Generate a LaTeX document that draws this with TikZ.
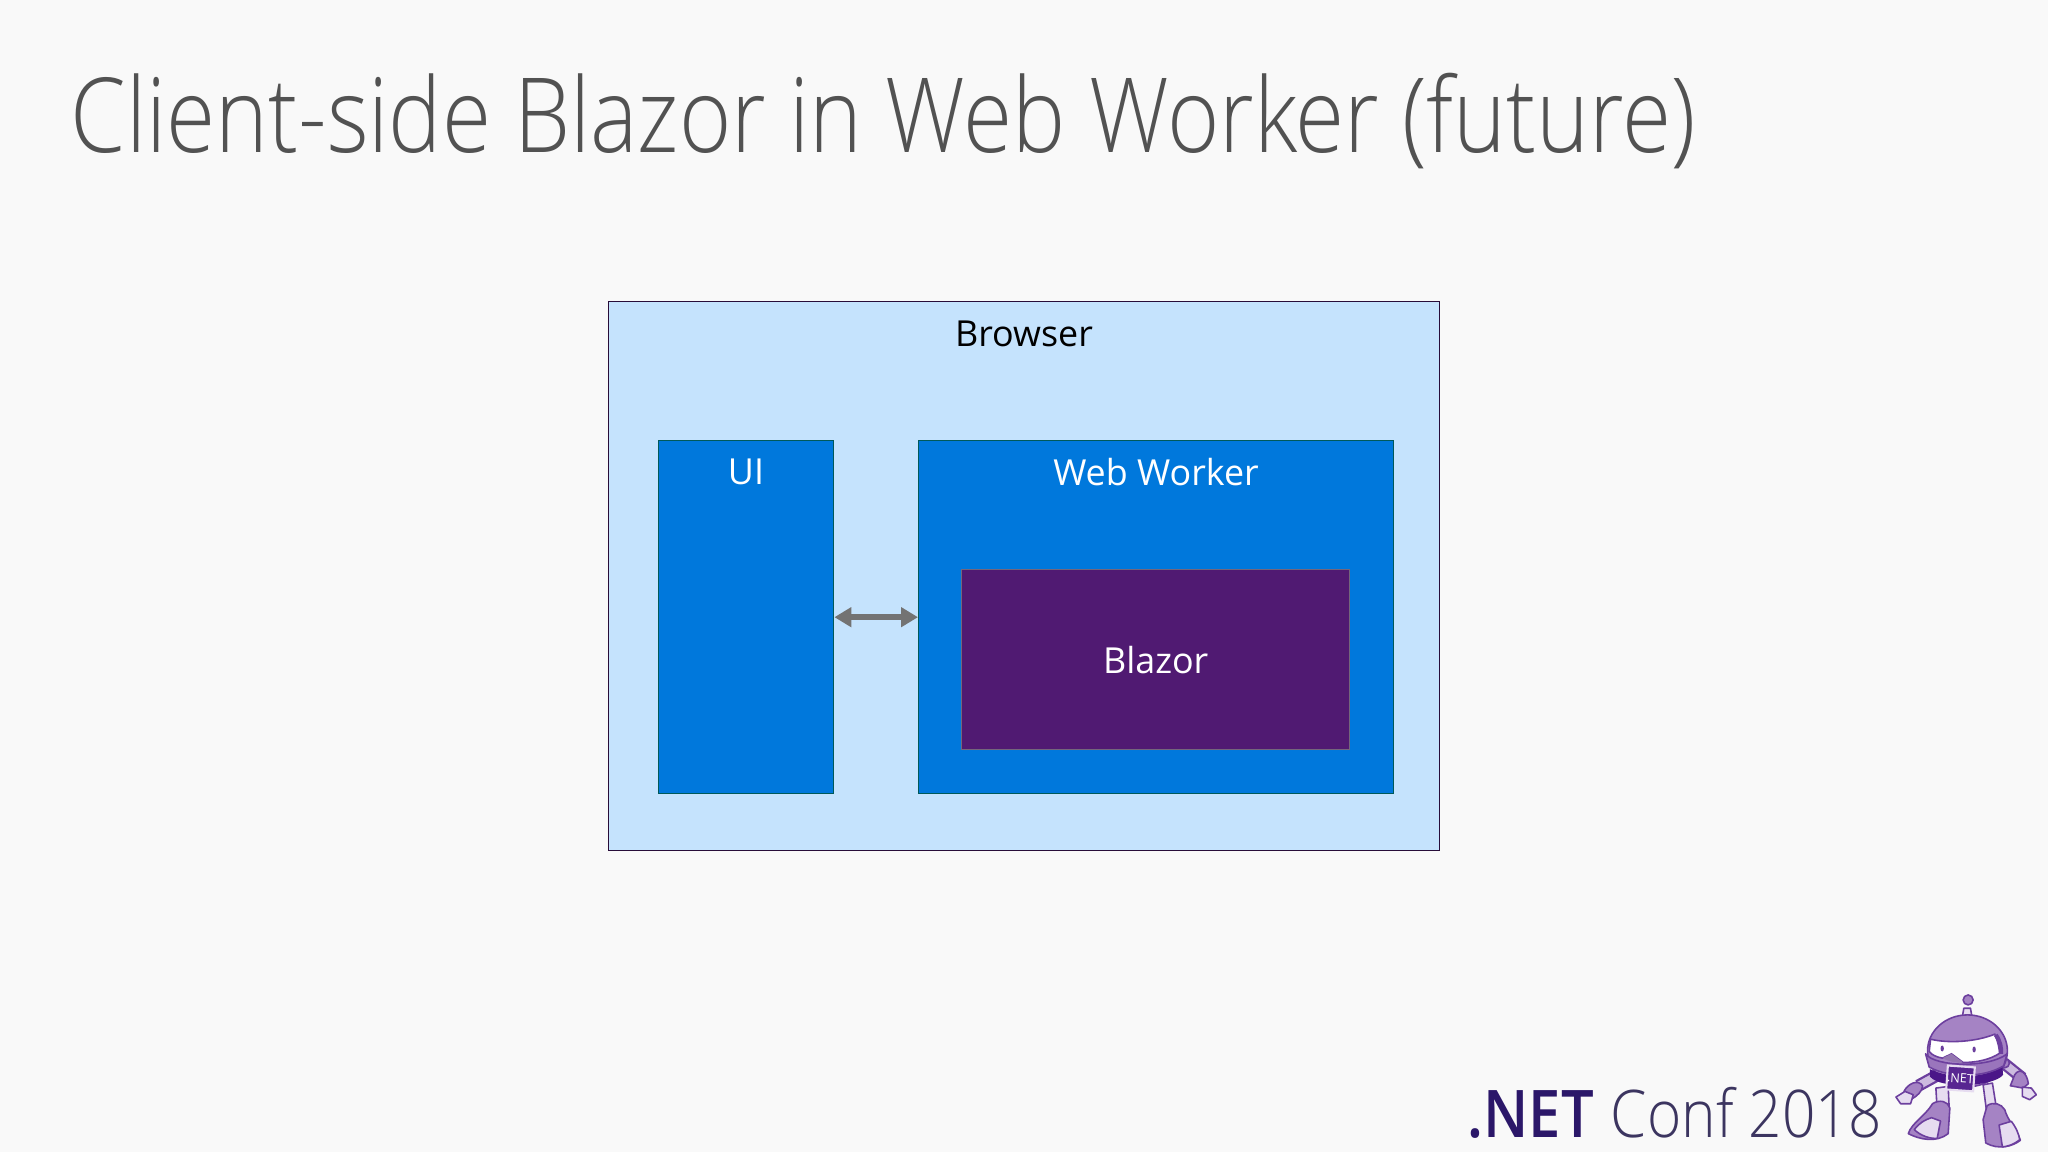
\documentclass[tikz,border=0pt]{standalone}
\usepackage{fontspec}
\usepackage[HTML]{xcolor}
\usepackage{tikz}
\usetikzlibrary{positioning, arrows, arrows.meta, calc}
\setmainfont{Open Sans}
\newfontfamily\lightfont[FakeStretch=0.862]{Open Sans Light}
\newfontfamily\conffont[FakeStretch=0.89]{Open Sans Light}
\newfontfamily\boldfont[FakeStretch=0.88]{Open Sans Semibold}
\definecolor{slidebg}{HTML}{F9F9F9}
\definecolor{browserfill}{HTML}{C5E3FD}
\definecolor{bluefill}{HTML}{0078DC}
\definecolor{blazorfill}{HTML}{501A72}
\definecolor{botline}{HTML}{6C3F9E}
\definecolor{botbody}{HTML}{A583C4}
\definecolor{botpale}{HTML}{E6DCF0}
\definecolor{botdark}{HTML}{4A1688}
\tikzset{
  panel/.style={draw, rectangle, anchor=north west, inner sep=0pt, line width=0.4pt},
  boxlabel/.style={font=\fontsize{10.2}{12}\selectfont, inner sep=0pt},
  botpart/.style={draw=botline, fill=botbody, line width=0.45pt, line join=round},
  botlight/.style={draw=botline, fill=botpale, line width=0.45pt, line join=round},
}
\begin{document}
\begin{tikzpicture}
\useasboundingbox (0,0) rectangle (20.48,11.52);
\fill[slidebg] (0,0) rectangle (20.48,11.52);

% Title
\node[anchor=base west, inner sep=0pt, text=black!68] (title) at (0.70,9.99)
  {\lightfont\fontsize{29.5}{36}\selectfont Client-side Blazor in Web Worker (future)};

% Boxes
\node[panel, draw=blazorfill!50!black, fill=browserfill, minimum width=8.31cm, minimum height=5.49cm] (browser) at (6.08,8.51) {};
\node[panel, draw=teal!70!black, fill=bluefill, minimum width=1.75cm, minimum height=3.53cm] (ui) at (6.58,7.12) {};
\node[panel, draw=teal!70!black, fill=bluefill, minimum width=4.75cm, minimum height=3.53cm] (worker) at (9.18,7.12) {};
\node[panel, draw=gray!75!blazorfill, fill=blazorfill, minimum width=3.88cm, minimum height=1.80cm] (blazor) at (9.61,5.83) {};

\node[boxlabel, text=black] (browserlabel) at (10.24,8.18) {Browser};
\node[boxlabel, text=white] (uilabel) at (7.46,6.80) {UI};
\node[boxlabel, text=white] (workerlabel) at (11.56,6.80) {Web Worker};
\node[boxlabel, text=white] at (blazor.center) (blazorlabel) {Blazor};

\draw[{Triangle[length=4.8pt,width=5.4pt]}-{Triangle[length=4.8pt,width=5.4pt]}, line width=1.8pt, color=black!55] (ui.east) -- (worker.west);

% Footer
\node[anchor=base west, inner sep=0pt] (conf) at (14.67,0.14)
  {\fontsize{18.7}{22}\selectfont\textcolor[HTML]{2B1769}{\boldfont .NET}\ \textcolor[HTML]{3C3560}{\conffont Conf 2018}};

% Robot, in units of the magnified crop
\begin{scope}[shift={(18.80,1.72)}, x=0.003333cm, y=-0.003333cm]
  % legs
  \draw[botlight] (168,325) -- (205,320) -- (208,385) -- (172,392) -- cycle;
  \draw[botlight] (310,315) -- (338,310) -- (350,385) -- (320,392) -- cycle;
  % feet
  \draw[botpart] (158,372) .. controls (180,358) and (205,365) .. (210,385) -- (205,462) .. controls (170,490) and (120,480) .. (85,462) .. controls (95,430) and (135,410) .. (158,372) -- cycle;
  \draw[botlight] (103,450) .. controls (118,430) and (135,420) .. (155,414) -- (182,424) -- (172,476) .. controls (150,478) and (122,468) .. (103,450) -- cycle;
  \draw[botpart] (322,378) .. controls (340,365) and (365,372) .. (375,390) .. controls (385,425) and (410,445) .. (422,482) .. controls (400,500) and (355,512) .. (318,490) -- (310,420) -- cycle;
  \draw[botlight] (358,436) -- (395,425) .. controls (410,445) and (418,465) .. (420,480) .. controls (402,495) and (385,500) .. (368,502) -- cycle;
  % arms
  \draw[line width=3.5pt, draw=botline] (175,285) -- (115,318);
  \draw[line width=2.2pt, draw=botbody!55] (175,285) -- (115,318);
  \draw[line width=3.5pt, draw=botline] (372,250) -- (428,295);
  \draw[line width=2.2pt, draw=botbody!55] (372,250) -- (428,295);
  \draw[botpart] (375,250) circle (14);
  \draw[botpart] (72,335) .. controls (85,310) and (115,298) .. (128,318) .. controls (128,335) and (110,350) .. (95,358) -- cycle;
  \draw[botlight] (48,352) -- (75,335) -- (100,345) -- (92,372) -- (62,372) -- cycle;
  \draw[botpart] (405,285) .. controls (420,262) and (442,278) .. (446,312) -- (430,325) -- (392,318) -- cycle;
  \draw[botlight] (428,322) -- (455,325) -- (470,345) -- (450,360) -- (428,350) -- cycle;
  % antenna
  \draw[botlight] (252,85) -- (272,85) -- (276,108) -- (248,108) -- cycle;
  \draw[botpart] (265,60) circle (15);
  % head and collar
  \draw[botpart] (263,213) ellipse (120 and 108);
  \fill[botdark] (150,268) .. controls (210,298) and (310,298) .. (368,260) -- (370,285) .. controls (345,320) and (180,330) .. (150,290) -- cycle;
  \draw[botpart, fill=botbody!80!botline] (137,222) .. controls (165,262) and (330,265) .. (382,222) -- (372,258) .. controls (310,295) and (210,295) .. (148,262) -- cycle;
  % visor
  \draw[draw=botline, fill=white, line width=0.45pt] (152,178) .. controls (210,192) and (290,185) .. (345,163) .. controls (355,185) and (358,205) .. (360,220) .. controls (330,240) and (290,248) .. (250,248) -- (215,222) -- (188,235) .. controls (170,232) and (155,225) .. (148,215) -- cycle;
  \fill[botbody!90!black] (188,235) -- (215,222) -- (250,248) .. controls (230,250) and (205,245) .. (188,235) -- cycle;
  \draw[botline, line width=1.2pt] (348,165) .. controls (362,185) and (365,205) .. (364,222);
  \fill[botline] (187,206) ellipse (5 and 9);
  \fill[botline] (283,209) ellipse (5 and 9);
  % badge
  \node[draw=botpale, fill=botdark!85!botbody, line width=0.6pt, minimum width=0.27cm, minimum height=0.24cm, inner sep=0pt, rotate=-4, text=white, font=\fontsize{3.6}{5}\selectfont] (badge) at (242,296) {.NET};
\end{scope}
\end{tikzpicture}
\end{document}
